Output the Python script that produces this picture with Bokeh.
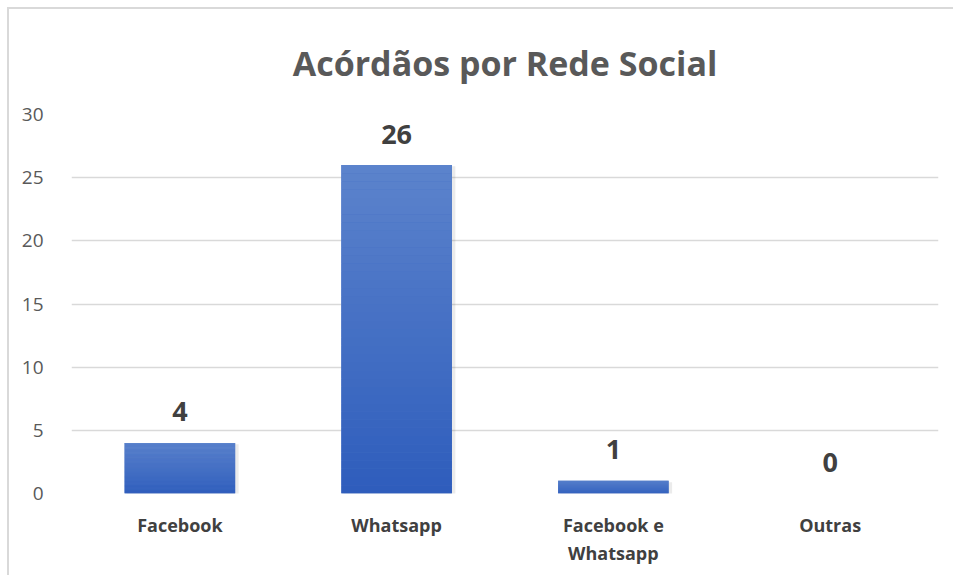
from bokeh.plotting import figure
from bokeh.models import ColumnDataSource, LabelSet, FixedTicker
from bokeh.core.properties import value
from bokeh.embed import file_html
from bokeh.resources import INLINE

categories = ["Facebook", "Whatsapp", "Facebook e\nWhatsapp", "Outras"]
values = [4, 26, 1, 0]
y_ticks = [0, 5, 10, 15, 20, 25, 30]
title_text = "Acórdãos por Rede Social"

FONT = "Open Sans"
top_rgb = (0x5C, 0x83, 0xCC)
bot_rgb = (0x2E, 0x5D, 0xBC)

p = figure(width=946, height=568, output_backend="svg", toolbar_location=None,
           x_range=(-0.5, 3.5), y_range=(0, 30),
           min_border_left=62, min_border_right=17, min_border_top=105, min_border_bottom=84,
           title=title_text)
p.styles = {"border-left": "2px solid #D9D9D9", "border-top": "2px solid #D9D9D9",
            "margin-left": "7px", "margin-top": "7px"}
p.outline_line_color = None
p.background_fill_color = "white"
p.border_fill_color = "white"

p.title.align = "center"
p.title.text_font = FONT
p.title.text_font_style = "bold"
p.title.text_font_size = "34px"
p.title.text_color = "#595959"
p.title.standoff = 57

# grid
p.xgrid.grid_line_color = None
p.ygrid.grid_line_color = "#D9D9D9"
p.ygrid.grid_line_width = 1.3
p.yaxis.ticker = FixedTicker(ticks=y_ticks)

# axes
p.yaxis.axis_line_color = None
p.yaxis.major_tick_line_color = None
p.yaxis.minor_tick_line_color = None
p.yaxis.major_label_text_font = FONT
p.yaxis.major_label_text_font_size = "19px"
p.yaxis.major_label_text_color = "#595959"
p.yaxis.major_label_standoff = 22

p.xaxis.ticker = FixedTicker(ticks=list(range(len(categories))))
p.xaxis.major_label_overrides = {i: c for i, c in enumerate(categories)}
p.xaxis.axis_line_color = None
p.xaxis.major_tick_line_color = None
p.xaxis.minor_tick_line_color = None
p.xaxis.major_label_text_font = FONT
p.xaxis.major_label_text_font_style = "bold"
p.xaxis.major_label_text_font_size = "18px"
p.xaxis.major_label_text_color = "#404040"
p.xaxis.major_label_standoff = 13

# bars with vertical gradient (per bar), plus soft shadow
bw = 0.51
N = 40
base_l, base_r, base_t = [], [], []
sl, sr, sb, st, sc = [], [], [], [], []
sh_l, sh_r, sh_t = [], [], []
for i, v in enumerate(values):
    if v <= 0:
        continue
    base_l.append(i - bw / 2)
    base_r.append(i + bw / 2)
    base_t.append(v)
    sh_l.append(i - bw / 2 + 0.01)
    sh_r.append(i + bw / 2 + 0.016)
    sh_t.append(v - 0.1)
    for k in range(N):
        f = (k + 0.5) / N
        rgb = tuple(int(round(bot_rgb[j] + (top_rgb[j] - bot_rgb[j]) * f)) for j in range(3))
        sl.append(i - bw / 2)
        sr.append(i + bw / 2)
        sb.append(v * k / N)
        st.append(v * (k + 1) / N)
        sc.append("#%02X%02X%02X" % rgb)

p.quad(left=sh_l, right=sh_r, bottom=[-0.25] * len(sh_l), top=sh_t,
       fill_color="#000000", fill_alpha=0.08, line_color=None)
p.quad(left=base_l, right=base_r, bottom=[0] * len(base_l), top=base_t,
       fill_color="#4570C4", line_color=None)
p.quad(left=sl, right=sr, bottom=sb, top=st, fill_color=sc, line_color=None)

src = ColumnDataSource(dict(x=list(range(len(values))), y=values,
                            t=[str(v) for v in values]))
labels = LabelSet(x="x", y="y", text="t", source=src, text_align="center",
                  text_baseline="middle", y_offset=31, text_font=value(FONT),
                  text_font_style="bold", text_font_size="27px", text_color="#404040")
p.add_layout(labels)

open("out.html", "w").write(file_html(p, INLINE))
